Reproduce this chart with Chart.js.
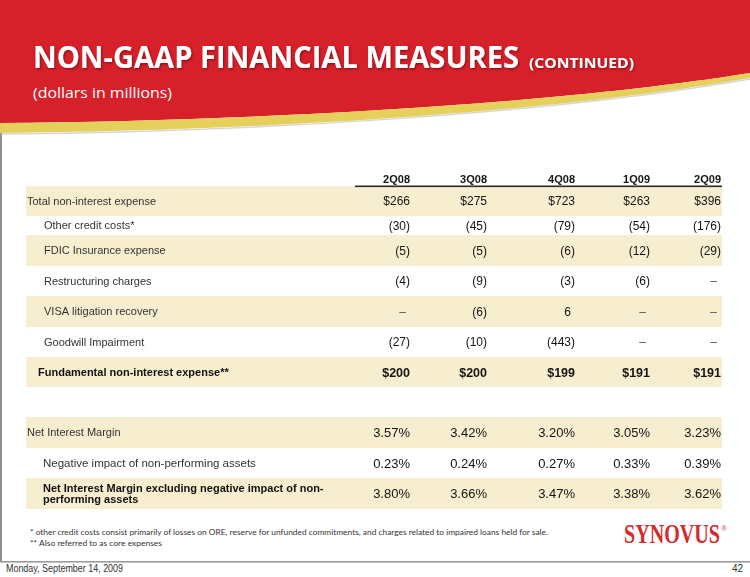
<!DOCTYPE html>
<html>
<head>
<meta charset="utf-8">
<script src="https://cdn.jsdelivr.net/npm/chart.js@4/dist/chart.umd.min.js"></script>
<style>
html,body{margin:0;padding:0;background:#fff;width:750px;height:577px;overflow:hidden}
#wrap{position:relative;width:750px;height:577px}
#deco,#tbl{position:absolute;left:0;top:0}
</style>
</head>
<body>
<div id="wrap">
<svg id="deco" width="750" height="577" xmlns="http://www.w3.org/2000/svg">
  <defs>
    <filter id="sh" x="-5%" y="-30%" width="110%" height="160%">
      <feDropShadow dx="1" dy="1.2" stdDeviation="0.8" flood-color="#4a0000" flood-opacity="0.55"/>
    </filter>
  </defs>
  <rect x="0" y="0" width="2" height="562" fill="#8f8f8f"/>
  <rect x="0" y="561" width="750" height="1.6" fill="#9c9c9c"/>
  <path d="M0,0 H750 V73 C550,105 250,121 0,123 Z" fill="#D6202A"/>
  <path d="M0,123 C250,121 550,105 750,73 L750,78 C550,113 250,131 0,133 Z" fill="#E4D05B"/>
  <path d="M0,134 C250,132 550,114 750,79" fill="none" stroke="#b5b5b5" stroke-width="1.5" opacity="0.55"/>
  <g filter="url(#sh)" fill="#ffffff" font-family="'Open Sans', sans-serif" font-weight="700">
    <text x="33" y="68" font-size="31" textLength="486" lengthAdjust="spacingAndGlyphs">NON-GAAP FINANCIAL MEASURES</text>
    <text x="529" y="68" font-size="15" textLength="105" lengthAdjust="spacingAndGlyphs">(CONTINUED)</text>
  </g>
  <text x="33" y="98" fill="#ffffff" font-family="'Open Sans', sans-serif" font-size="15" textLength="139" lengthAdjust="spacingAndGlyphs">(dollars in millions)</text>
  <text x="30" y="535" fill="#333" font-family="Lato, sans-serif" font-size="8.2" textLength="518" lengthAdjust="spacingAndGlyphs">* other credit costs consist primarily of losses on ORE, reserve for unfunded commitments, and charges related to impaired loans held for sale.</text>
  <text x="30" y="546" fill="#333" font-family="Lato, sans-serif" font-size="8.2" textLength="132" lengthAdjust="spacingAndGlyphs">** Also referred to as core expenses</text>
  <text x="624" y="543" fill="#D42B2B" font-family="'Liberation Serif', serif" font-weight="700" font-size="27" textLength="96" lengthAdjust="spacingAndGlyphs">SYNOVUS</text>
  <text x="721" y="531" fill="#D42B2B" font-family="'Liberation Serif', serif" font-size="8">®</text>
  <text x="6" y="571.5" fill="#333" font-family="'Liberation Sans', Arial, sans-serif" font-size="10" textLength="117" lengthAdjust="spacingAndGlyphs">Monday, September 14, 2009</text>
  <text x="743" y="571.5" fill="#333" font-family="'Liberation Sans', Arial, sans-serif" font-size="10" text-anchor="end">42</text>
</svg>
<canvas id="tbl" width="750" height="577"></canvas>
</div>
<script>
// ---------------- DATA ----------------
const quarters = ['2Q08', '3Q08', '4Q08', '1Q09', '2Q09'];
const rowLabels = [
  'Total non-interest expense',
  'Other credit costs*',
  'FDIC Insurance expense',
  'Restructuring charges',
  'VISA litigation recovery',
  'Goodwill Impairment',
  'Fundamental non-interest expense**',
  'Net Interest Margin',
  'Negative impact of non-performing assets',
  ['Net Interest Margin excluding negative impact of non-', 'performing assets']
];
const totalNonInterestExpense       = [266, 275, 723, 263, 396];
const otherCreditCosts              = [-30, -45, -79, -54, -176];
const fdicInsuranceExpense          = [-5, -5, -6, -12, -29];
const restructuringCharges          = [-4, -9, -3, -6, null];
const visaLitigationRecovery        = [null, -6, 6, null, null];
const goodwillImpairment            = [-27, -10, -443, null, null];
const fundamentalNonInterestExpense = [200, 200, 199, 191, 191];
const netInterestMargin             = [3.57, 3.42, 3.20, 3.05, 3.23];
const negativeImpactNPA             = [0.23, 0.24, 0.27, 0.33, 0.39];
const nimExcludingNPA               = [3.80, 3.66, 3.47, 3.38, 3.62];

const rowSeries = [
  totalNonInterestExpense, otherCreditCosts, fdicInsuranceExpense,
  restructuringCharges, visaLitigationRecovery, goodwillImpairment,
  fundamentalNonInterestExpense, netInterestMargin, negativeImpactNPA, nimExcludingNPA
];
const rowFormat = ['dollar','acct','acct','acct','acct','acct','dollar','pct','pct','pct'];

// ---------------- LAYOUT / STYLE ----------------
const ROW_HEIGHTS = [14, 30, 19, 31, 30, 31, 30, 30, 30, 31, 30, 31]; // header, 7 rows, spacer, 3 rows
const ROW_SLOT = [1, 2, 3, 4, 5, 6, 7, 9, 10, 11];
const COL_WIDTHS = [329, 55, 77, 88, 75, 71, 1];
const ROW_STYLE = [
  {shade:true,  indent:1,  bold:false, vbold:false, lf:11,   vf:12},
  {shade:false, indent:18, bold:false, vbold:false, lf:11,   vf:12},
  {shade:true,  indent:18, bold:false, vbold:false, lf:11,   vf:12},
  {shade:false, indent:18, bold:false, vbold:false, lf:11,   vf:12},
  {shade:true,  indent:18, bold:false, vbold:false, lf:11,   vf:12},
  {shade:false, indent:18, bold:false, vbold:false, lf:11,   vf:12},
  {shade:true,  indent:12, bold:true,  vbold:true,  lf:11,   vf:12.5},
  {shade:true,  indent:1,  bold:false, vbold:false, lf:11,   vf:13},
  {shade:false, indent:17, bold:false, vbold:false, lf:11.5, vf:13},
  {shade:true,  indent:17, bold:true,  vbold:false, lf:11,   vf:13}
];
const STRIPE = '#F6EECF';
const FONT = '"Liberation Sans", Arial, Helvetica, sans-serif';

function fmt(v, kind) {
  if (v === null || v === undefined) return '\u2013';
  if (kind === 'dollar') return '$' + v;
  if (kind === 'pct') return v.toFixed(2) + '%';
  return v < 0 ? '(' + Math.abs(v) + ')' : String(v);
}

const sum = a => a.reduce((s, v) => s + v, 0);

const tablePlugin = {
  id: 'tableCells',
  afterDraw(chart) {
    const ctx = chart.ctx, xs = chart.scales.x, ys = chart.scales.y, ca = chart.chartArea;
    const tops = []; let acc = 0;
    ROW_HEIGHTS.forEach(h => { tops.push(acc); acc += h; });
    const rowTop = i => ys.getPixelForValue(tops[i]);
    const rowBot = i => ys.getPixelForValue(tops[i] + ROW_HEIGHTS[i]);
    const rowMid = i => (rowTop(i) + rowBot(i)) / 2;
    const edges = []; acc = 0;
    COL_WIDTHS.forEach(w => { acc += w; edges.push(acc); });
    const colRight = j => xs.getPixelForValue(edges[j + 1]);

    ctx.save();
    ROW_SLOT.forEach((slot, i) => {
      if (!ROW_STYLE[i].shade) return;
      const t = rowTop(slot), b = rowBot(slot);
      ctx.fillStyle = STRIPE;
      ctx.fillRect(ca.left, t, ca.right - ca.left, b - t);
    });
    const ruleX = xs.getPixelForValue(edges[0]);
    ctx.fillStyle = '#2a2a2a';
    ctx.fillRect(ruleX, rowBot(0) - 0.5, ca.right - ruleX, 1.6);
    ctx.textAlign = 'right';
    ctx.textBaseline = 'alphabetic';
    ctx.font = 'bold 11px ' + FONT;
    ctx.fillStyle = '#151515';
    quarters.forEach((q, j) => ctx.fillText(q, colRight(j), rowMid(0) + 3.5));

    rowLabels.forEach((label, i) => {
      const st = ROW_STYLE[i], slot = ROW_SLOT[i], mid = rowMid(slot);
      ctx.textAlign = 'left';
      ctx.font = (st.bold ? 'bold ' : '') + st.lf + 'px ' + FONT;
      ctx.fillStyle = st.bold ? '#111' : '#333';
      const lx = xs.getPixelForValue(st.indent);
      if (Array.isArray(label)) {
        const lh = 10.5;
        label.forEach((ln, k) => {
          const cy = mid + (k - (label.length - 1) / 2) * lh;
          ctx.fillText(ln, lx, cy + st.lf * 0.36);
        });
      } else {
        ctx.fillText(label, lx, mid + st.lf * 0.36);
      }
      ctx.textAlign = 'right';
      ctx.font = (st.vbold ? 'bold ' : '') + st.vf + 'px ' + FONT;
      const paren = ctx.measureText(')').width;
      rowSeries[i].forEach((v, j) => {
        const kind = rowFormat[i];
        const txt = fmt(v, kind);
        let rx = colRight(j);
        if (kind === 'acct' && (v === null || v >= 0)) rx -= paren;
        ctx.fillStyle = (v === null) ? '#555' : '#141414';
        ctx.fillText(txt, rx, mid + st.vf * 0.36);
      });
    });
    ctx.restore();
  }
};

new Chart(document.getElementById('tbl'), {
  type: 'scatter',
  data: { datasets: [] },
  options: {
    responsive: false,
    animation: false,
    events: [],
    layout: { padding: { left: 26, right: 28, top: 172, bottom: 68 } },
    plugins: { legend: { display: false }, tooltip: { enabled: false }, title: { display: false } },
    scales: {
      x: { type: 'linear', display: false, min: 0, max: sum(COL_WIDTHS) },
      y: { type: 'linear', display: false, reverse: true, min: 0, max: sum(ROW_HEIGHTS) }
    }
  },
  plugins: [tablePlugin]
});
</script>
</body>
</html>
